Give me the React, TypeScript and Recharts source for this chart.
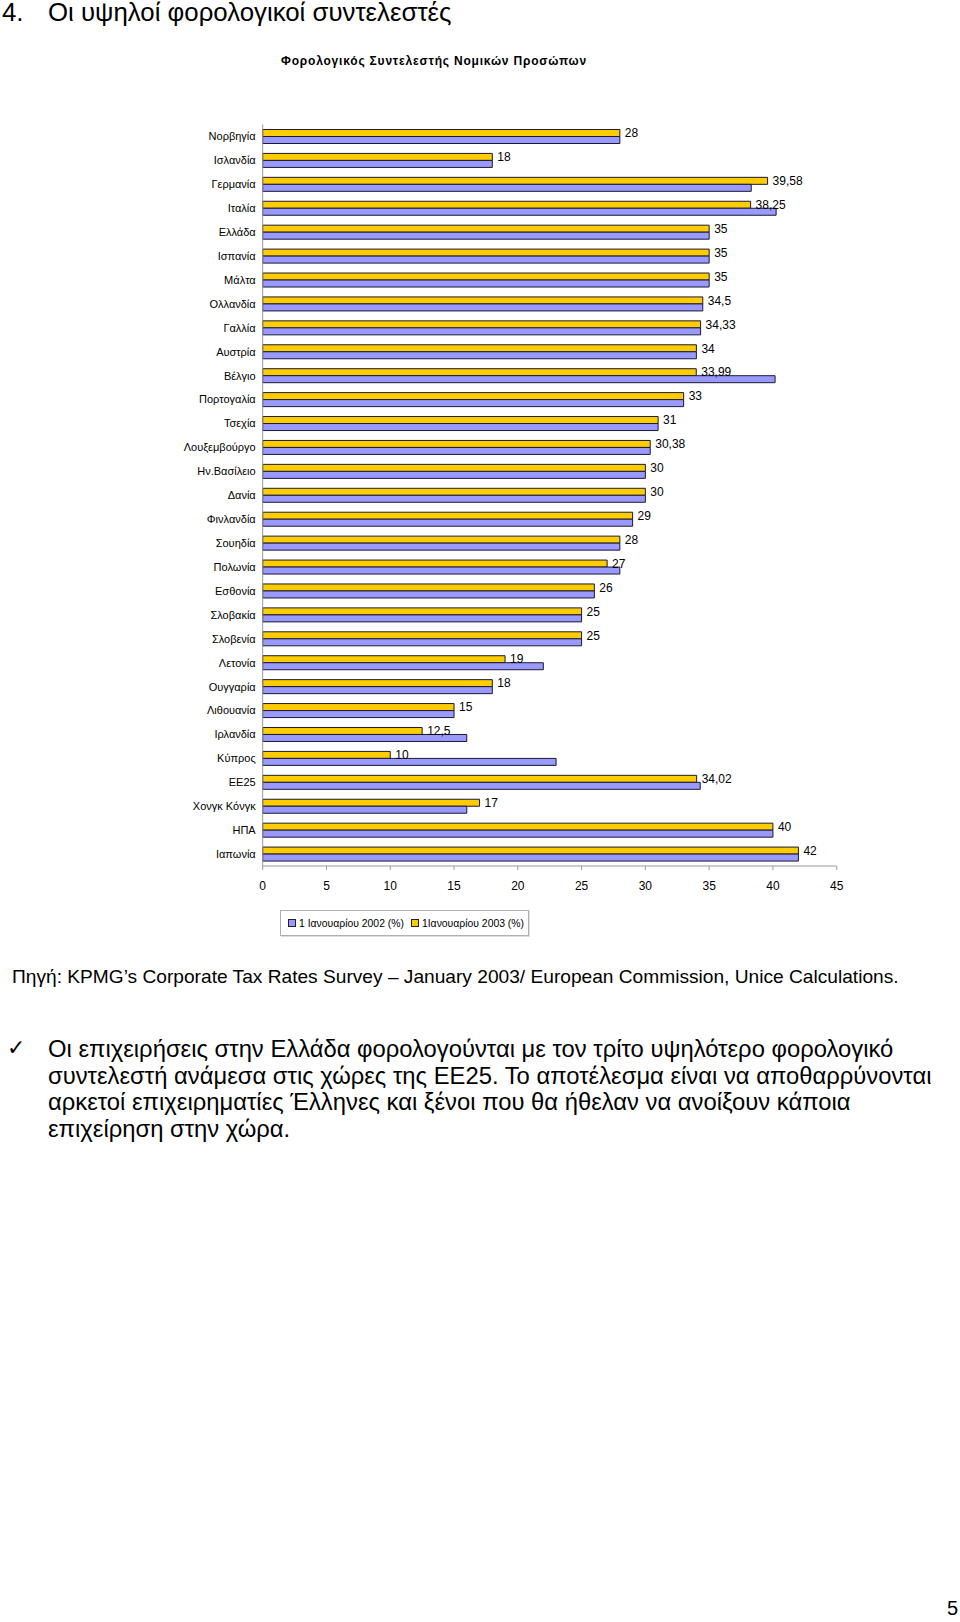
import { BarChart, Bar, XAxis, YAxis, LabelList } from 'recharts';

const countries = [
  'Νορβηγία', 'Ισλανδία', 'Γερμανία', 'Ιταλία', 'Ελλάδα', 'Ισπανία', 'Μάλτα', 'Ολλανδία',
  'Γαλλία', 'Αυστρία', 'Βέλγιο', 'Πορτογαλία', 'Τσεχία', 'Λουξεμβούργο', 'Ην.Βασίλειο',
  'Δανία', 'Φινλανδία', 'Σουηδία', 'Πολωνία', 'Εσθονία', 'Σλοβακία', 'Σλοβενία', 'Λετονία',
  'Ουγγαρία', 'Λιθουανία', 'Ιρλανδία', 'Κύπρος', 'ΕΕ25', 'Χονγκ Κόνγκ', 'ΗΠΑ', 'Ιαπωνία',
];

const rates2003 = [
  28, 18, 39.58, 38.25, 35, 35, 35, 34.5, 34.33, 34, 33.99, 33, 31, 30.38, 30, 30, 29, 28,
  27, 26, 25, 25, 19, 18, 15, 12.5, 10, 34.02, 17, 40, 42,
];

const rates2002 = [
  28, 18, 38.3, 40.25, 35, 35, 35, 34.5, 34.33, 34, 40.17, 33, 31, 30.38, 30, 30, 29, 28,
  28, 26, 25, 25, 22, 18, 15, 16, 23, 34.3, 16, 40, 42,
];

const xTicks = [0, 5, 10, 15, 20, 25, 30, 35, 40, 45];

const YELLOW = '#FFCC00';
const BLUE = '#9999FF';
const FONT = '"Liberation Sans", Arial, sans-serif';

const data = countries.map((name, i) => ({ name, y2003: rates2003[i], y2002: rates2002[i] }));

const fmt = (v: any) => String(v).replace('.', ',');

function LegendBox() {
  const item = (color: string, label: string) => (
    <span style={{ display: 'inline-flex', alignItems: 'center', marginRight: 7, whiteSpace: 'nowrap' }}>
      <span style={{ width: 6, height: 6, background: color, border: '1px solid #222', marginRight: 3 }} />
      {label}
    </span>
  );
  return (
    <div
      style={{
        position: 'absolute', left: 280, top: 910, width: 249, height: 26,
        border: '1px solid #b0b0b0', boxShadow: '1px 1px 0 #ddd', fontFamily: FONT, fontSize: 10.4,
        display: 'flex', alignItems: 'center', paddingLeft: 7, boxSizing: 'border-box', background: '#fff',
        whiteSpace: 'nowrap',
      }}
    >
      {item(BLUE, '1 Ιανουαρίου 2002 (%)')}
      {item(YELLOW, '1Ιανουαρίου 2003 (%)')}
    </div>
  );
}

export default function App() {
  return (
    <div style={{ position: 'absolute', left: 0, top: 0, width: 960, height: 1622, background: '#fff', fontFamily: FONT }}>
      <div style={{ position: 'absolute', left: 2, top: -2, fontSize: 25.8, whiteSpace: 'pre' }}>
        4.<span style={{ position: 'absolute', left: 46 }}>Οι υψηλοί φορολογικοί συντελεστές</span>
      </div>
      <div style={{ position: 'absolute', left: 0, width: 868, top: 54, textAlign: 'center', fontSize: 12, fontWeight: 'bold', letterSpacing: 0.8 }}>
        Φορολογικός Συντελεστής Νομικών Προσώπων
      </div>

      <div style={{ position: 'absolute', left: 0, top: 0 }}>
        <BarChart
          width={960}
          height={900}
          data={data}
          layout="vertical"
          margin={{ top: 124.5, right: 123.3, bottom: 4, left: 0 }}
          barSize={7}
          barGap={0}
        >
          <XAxis
            type="number"
            domain={[0, 45]}
            ticks={xTicks}
            interval={0}
            height={30}
            stroke="#999"
            tickSize={4}
            tickMargin={11}
            tick={{ fill: '#000', fontSize: 12, fontFamily: FONT }}
          />
          <YAxis
            type="category"
            dataKey="name"
            width={262.7}
            interval={0}
            stroke="#999"
            tickLine={false}
            tickSize={5}
            tickMargin={2}
            tick={{ fill: '#000', fontSize: 11, fontFamily: FONT }}
          />
          <Bar dataKey="y2003" fill={YELLOW} stroke="#1a1a33" strokeWidth={1} isAnimationActive={false}>
            <LabelList
              dataKey="y2003"
              position="right"
              offset={5}
              formatter={fmt}
              style={{ fill: '#000', fontSize: 12, fontFamily: FONT }}
            />
          </Bar>
          <Bar dataKey="y2002" fill={BLUE} stroke="#1a1a33" strokeWidth={1} isAnimationActive={false} />
        </BarChart>
      </div>

      <LegendBox />

      <div style={{ position: 'absolute', left: 12, top: 966, fontSize: 19.15, whiteSpace: 'nowrap' }}>
        Πηγή: KPMG’s Corporate Tax Rates Survey – January 2003/ European Commission, Unice Calculations.
      </div>

      <div style={{ position: 'absolute', left: 7, top: 1035, fontSize: 22 }}>✓</div>
      <div style={{ position: 'absolute', left: 48, top: 1036, width: 900, fontSize: 23.8, lineHeight: '26.7px' }}>
        Οι επιχειρήσεις στην Ελλάδα φορολογούνται με τον τρίτο υψηλότερο φορολογικό συντελεστή ανάμεσα
        στις χώρες της ΕΕ25. Το αποτέλεσμα είναι να αποθαρρύνονται αρκετοί επιχειρηματίες Έλληνες και
        ξένοι που θα ήθελαν να ανοίξουν κάποια επιχείρηση στην χώρα.
      </div>

      <div style={{ position: 'absolute', right: 2, top: 1597, fontSize: 20 }}>5</div>
    </div>
  );
}
